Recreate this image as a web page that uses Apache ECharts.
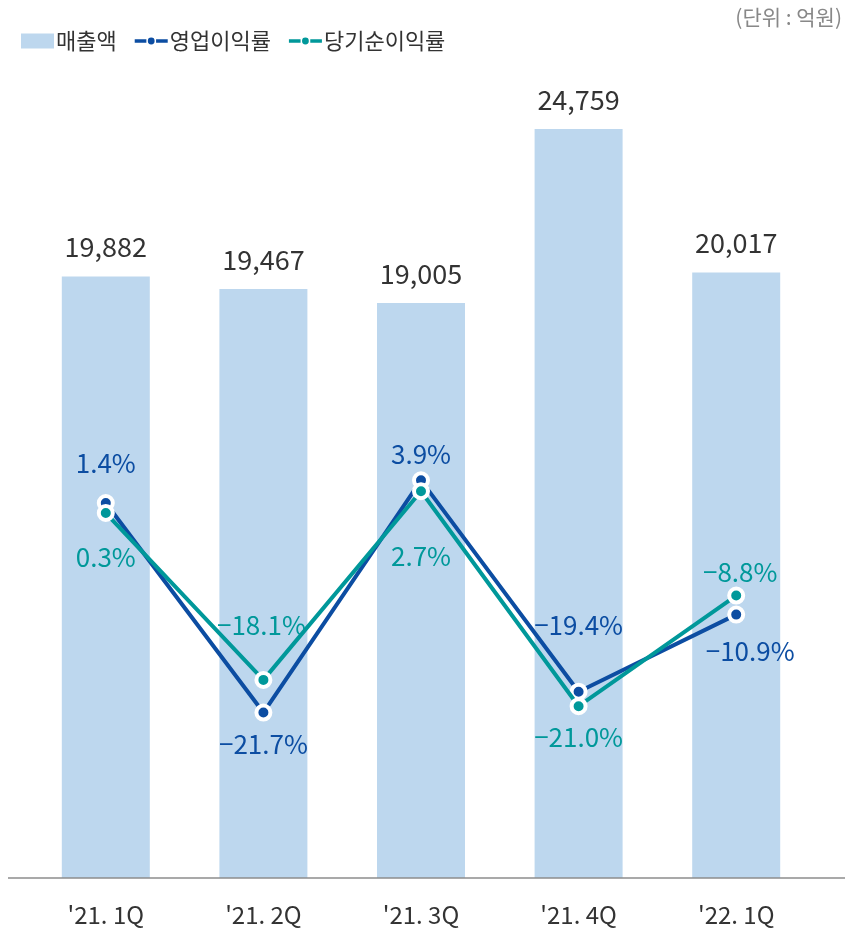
<!DOCTYPE html>
<html>
<head>
<meta charset="utf-8">
<script src="https://cdn.jsdelivr.net/npm/echarts@6/dist/echarts.min.js"></script>
<style>
  html, body { margin: 0; padding: 0; background: #fff; }
  #chart { width: 845px; height: 929px; }
</style>
</head>
<body>
<div id="chart"></div>
<script>
const categories = ["'21. 1Q", "'21. 2Q", "'21. 3Q", "'21. 4Q", "'22. 1Q"]
const sales = [19882, 19467, 19005, 24759, 20017]
const opMargin = [1.4, -21.7, 3.9, -19.4, -10.9]
const netMargin = [0.3, -18.1, 2.7, -21.0, -8.8]

// label offsets (px) around each point
const opLabelOffset = [[0, -40], [0, 32], [0, -26], [0, -67], [14, 37]]
const netLabelOffset = [[0, 44], [-2, -55], [0, 65], [0, 31], [4, -23]]

const BAR = '#bdd7ee'
const BLUE = '#0c4da2'
const TEAL = '#00989a'
const FONT = '"Noto Sans CJK KR", "Noto Sans", sans-serif'

// legend icon for the lines: dash - dot - dash
const LINE_ICON = 'path://M0,1.75H12V5.25H0Z M22,1.75H34V5.25H22Z M20.5,3.5A3.5,3.5,0,1,1,13.5,3.5A3.5,3.5,0,1,1,20.5,3.5Z'

const chart = echarts.init(document.getElementById('chart'))

const fmtPct = v => (v < 0 ? '\u2212' + Math.abs(v).toFixed(1) : v.toFixed(1)) + '%'

const pctData = (vals, offsets, color) => vals.map((v, i) => ({
  value: v,
  label: {
    show: true,
    position: 'inside',
    offset: offsets[i],
    align: 'center',
    verticalAlign: 'middle',
    color: color,
    fontSize: 26,
    fontFamily: FONT,
    formatter: p => fmtPct(p.value)
  }
}))

const option = {
  animation: false,
  grid: { left: 27, right: 30, top: 31, bottom: 51 },
  legend: {
    left: 16,
    top: 25,
    itemGap: 18,
    itemWidth: 33,
    itemHeight: 15,
    itemStyle: { borderWidth: 0 },
    textStyle: { fontSize: 22, color: '#333', fontFamily: FONT, padding: [0, 0, 0, -3] },
    data: [
      { name: '매출액', icon: 'rect' },
      { name: '영업이익률', icon: LINE_ICON, itemWidth: 34, itemHeight: 7 },
      { name: '당기순이익률', icon: LINE_ICON, itemWidth: 34, itemHeight: 7 }
    ]
  },
  graphic: [
    {
      type: 'text',
      right: 3,
      top: 7,
      style: { text: '(단위 : 억원)', fontSize: 21, fill: '#888', fontFamily: FONT }
    },
    {
      type: 'line',
      shape: { x1: 8, y1: 878, x2: 845, y2: 878 },
      style: { stroke: '#8c8c8c', lineWidth: 1.5 },
      z: 10
    }
  ],
  xAxis: {
    type: 'category',
    data: categories,
    axisLine: { show: false },
    axisTick: { show: false },
    axisLabel: { color: '#333', fontSize: 24, fontFamily: FONT, margin: 25 }
  },
  yAxis: [
    { type: 'value', min: 0, max: 28000, show: false },
    { type: 'value', min: -39.94, max: 53.44, show: false }
  ],
  series: [
    {
      name: '매출액',
      type: 'bar',
      data: sales,
      barWidth: 88,
      itemStyle: { color: BAR },
      label: {
        show: true,
        position: 'top',
        distance: 16,
        color: '#333',
        fontSize: 27,
        fontFamily: FONT,
        formatter: p => p.value.toLocaleString('en-US')
      }
    },
    {
      name: '영업이익률',
      type: 'line',
      yAxisIndex: 1,
      data: pctData(opMargin, opLabelOffset, BLUE),
      symbol: 'circle',
      symbolSize: 14,
      lineStyle: { color: BLUE, width: 4 },
      itemStyle: { color: BLUE, borderColor: '#fff', borderWidth: 4 },
      z: 3
    },
    {
      name: '당기순이익률',
      type: 'line',
      yAxisIndex: 1,
      data: pctData(netMargin, netLabelOffset, TEAL),
      symbol: 'circle',
      symbolSize: 14,
      lineStyle: { color: TEAL, width: 4 },
      itemStyle: { color: TEAL, borderColor: '#fff', borderWidth: 4 },
      z: 4
    }
  ]
}

chart.setOption(option)
window.addEventListener('resize', () => chart.resize())
</script>
</body>
</html>
